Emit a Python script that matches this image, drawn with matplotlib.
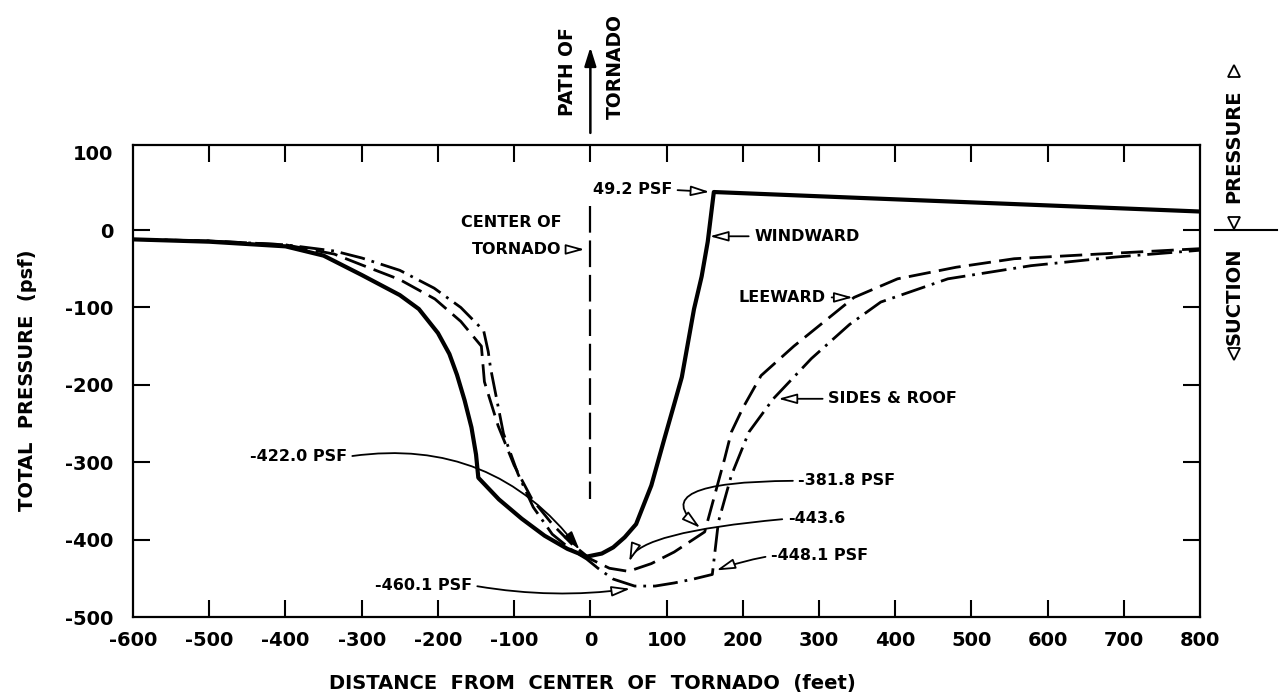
import numpy as np
import matplotlib.pyplot as plt

plt.rcParams['font.family'] = ['DejaVu Sans']
plt.rcParams['font.weight'] = 'bold'
plt.rcParams['axes.unicode_minus'] = False

# windward wall (solid)
ww_x = [-600, -500, -400, -350, -300, -250, -225, -200, -185, -175, -165, -156, -150,
        -147, -120, -90, -60, -30, -5, 15, 30, 45, 60, 80, 97, 110, 120, 136, 146, 154,
        162, 300, 450, 600, 800]
ww_y = [-12, -15, -21, -33, -58, -84, -102, -133, -160, -187, -220, -255, -290,
        -320, -348, -373, -395, -412, -422, -418, -410, -397, -380, -330, -270, -225,
        -190, -102, -60, -15, 49.2, 43.7, 37.8, 31.9, 24]

# leeward wall (dashed)
lee_x = [-600, -500, -400, -336, -300, -250, -204, -170, -143, -139, -121, -100, -77,
         -50, -25, 0, 25, 50, 80, 110, 150, 163, 176, 185, 200, 224, 267, 346, 403,
         480, 556, 666, 800]
lee_y = [-12, -14, -19, -31, -45, -64, -89, -118, -150, -196, -253, -304, -347,
         -380, -405, -425, -437, -441, -431, -416, -390, -343, -296, -261, -230, -188,
         -150, -87, -63, -48, -37, -31, -24]

# sides & roof (dash-dot)
sr_x = [-600, -500, -400, -336, -300, -250, -205, -170, -140, -134, -131, -114, -95,
        -75, -50, -25, -5, 10, 30, 58, 85, 110, 135, 160, 168, 185, 208, 240, 290,
        340, 381, 469, 578, 687, 800]
sr_y = [-12, -14, -19, -27, -36, -52, -75, -100, -130, -157, -178, -263, -315,
        -358, -393, -413, -425, -437, -451, -460, -460, -456, -451, -445, -377, -317,
        -261, -218, -166, -122, -93, -63, -46, -35, -26]

x_ticks = list(range(-600, 801, 100))
y_ticks = list(range(-500, 101, 100))
center_x = 0

fig = plt.figure(figsize=(12.83, 6.99), dpi=100)
ax = fig.add_axes([0.1037, 0.1173, 0.8317, 0.6753])

ax.plot(ww_x, ww_y, color='black', lw=3, solid_joinstyle='round')
ax.plot(lee_x, lee_y, color='black', lw=2, linestyle=(0, (8, 3)))
ax.plot(sr_x, sr_y, color='black', lw=2, linestyle=(0, (9, 2.5, 1, 2.5)))
# center of tornado line
ax.plot([center_x, center_x], [31, -347], color='black', lw=1.6, linestyle=(0, (12, 3.5)))

ax.set_xlim(-600, 800)
ax.set_ylim(-500, 110)
ax.set_xticks(x_ticks)
ax.set_yticks(y_ticks)
ax.tick_params(direction='in', length=12, width=1.5, top=True, right=True,
               labelsize=14)
ax.tick_params(axis='x', pad=10)
ax.tick_params(axis='y', pad=14)
for t in [ax.xaxis.get_major_ticks()[0], ax.xaxis.get_major_ticks()[-1],
          ax.yaxis.get_major_ticks()[0], ax.yaxis.get_major_ticks()[-1]]:
    t.tick1line.set_visible(False)
    t.tick2line.set_visible(False)
for s in ax.spines.values():
    s.set_linewidth(1.6)

fs = 11.5
head = '-|>,head_length=0.8,head_width=0.22'
open_arrow = dict(arrowstyle=head, ec='black', fc='white', lw=1.3, mutation_scale=14)

ax.annotate('49.2 PSF', xy=(160, 49.2), xytext=(3, 52), ha='left', va='center',
            fontsize=fs, arrowprops=dict(open_arrow, relpos=(1, 0.5)))
ax.text(-38, 10, 'CENTER OF', ha='right', va='center', fontsize=fs)
ax.annotate('TORNADO', xy=(-4, -25), xytext=(-38, -25), ha='right', va='center',
            fontsize=fs, arrowprops=dict(open_arrow, relpos=(1, 0.5)))
ax.annotate('WINDWARD', xy=(153, -8), xytext=(215, -8), ha='left', va='center',
            fontsize=fs, arrowprops=dict(open_arrow, relpos=(0, 0.5)))
ax.annotate('LEEWARD', xy=(348, -87), xytext=(195, -87), ha='left', va='center',
            fontsize=fs, arrowprops=dict(open_arrow, relpos=(1, 0.5)))
ax.annotate('SIDES & ROOF', xy=(243, -218), xytext=(312, -218), ha='left', va='center',
            fontsize=fs, arrowprops=dict(open_arrow, relpos=(0, 0.5)))

ax.annotate('-422.0 PSF', xy=(-12, -416), xytext=(-447, -293), ha='left', va='center',
            fontsize=fs,
            arrowprops=dict(arrowstyle=head, color='black', lw=1.3, mutation_scale=14,
                            relpos=(1, 0.5), connectionstyle='arc3,rad=-0.3'))
ax.annotate('-460.1 PSF', xy=(56, -463), xytext=(-283, -459), ha='left', va='center',
            fontsize=fs,
            arrowprops=dict(open_arrow, relpos=(1, 0.5), connectionstyle='arc3,rad=0.08'))
ax.annotate('-381.8 PSF', xy=(147, -387), xytext=(273, -324), ha='left', va='center',
            fontsize=fs,
            arrowprops=dict(open_arrow, relpos=(0, 0.5),
                            connectionstyle='angle3,angleA=0,angleB=142'))
ax.annotate('-443.6', xy=(50, -432), xytext=(259, -373), ha='left', va='center',
            fontsize=fs,
            arrowprops=dict(open_arrow, relpos=(0, 0.5),
                            connectionstyle='angle3,angleA=5,angleB=80'))
ax.annotate('-448.1 PSF', xy=(162, -441), xytext=(237, -421), ha='left', va='center',
            fontsize=fs,
            arrowprops=dict(open_arrow, relpos=(0, 0.5), connectionstyle='arc3,rad=0.05'))

# path of tornado
ax.annotate('', xy=(center_x, 240), xytext=(center_x, 122), annotation_clip=False,
            arrowprops=dict(arrowstyle='-|>,head_length=0.8,head_width=0.25',
                            color='black', lw=1.8, mutation_scale=14))
ax.text(-30, 205, 'PATH OF', rotation=90, ha='center', va='center', fontsize=13.5,
        clip_on=False)
ax.text(33, 212, 'TORNADO', rotation=90, ha='center', va='center', fontsize=13.5,
        clip_on=False)

# suction / pressure indicator on the right
ax.plot([820, 901], [0, 0], color='black', lw=1.5, clip_on=False)
ax.text(844, 108, 'PRESSURE', rotation=90, ha='center', va='center', fontsize=14,
        clip_on=False)
ax.text(844, -86, 'SUCTION', rotation=90, ha='center', va='center', fontsize=14,
        clip_on=False)
ax.plot([844], [205], marker='^', ms=8, mfc='white', mec='black', mew=1.3, clip_on=False)
ax.plot([844], [9], marker='v', ms=8, mfc='white', mec='black', mew=1.3, clip_on=False)
ax.plot([844], [-160], marker='v', ms=8, mfc='white', mec='black', mew=1.3, clip_on=False)

fig.text(592 / 1283, 1 - 683 / 699, 'DISTANCE  FROM  CENTER  OF  TORNADO  (feet)',
         ha='center', va='center', fontsize=14)
fig.text(28 / 1283, 1 - 380 / 699, 'TOTAL  PRESSURE  (psf)', rotation=90,
         ha='center', va='center', fontsize=14)

plt.savefig('out.png', dpi=100)
